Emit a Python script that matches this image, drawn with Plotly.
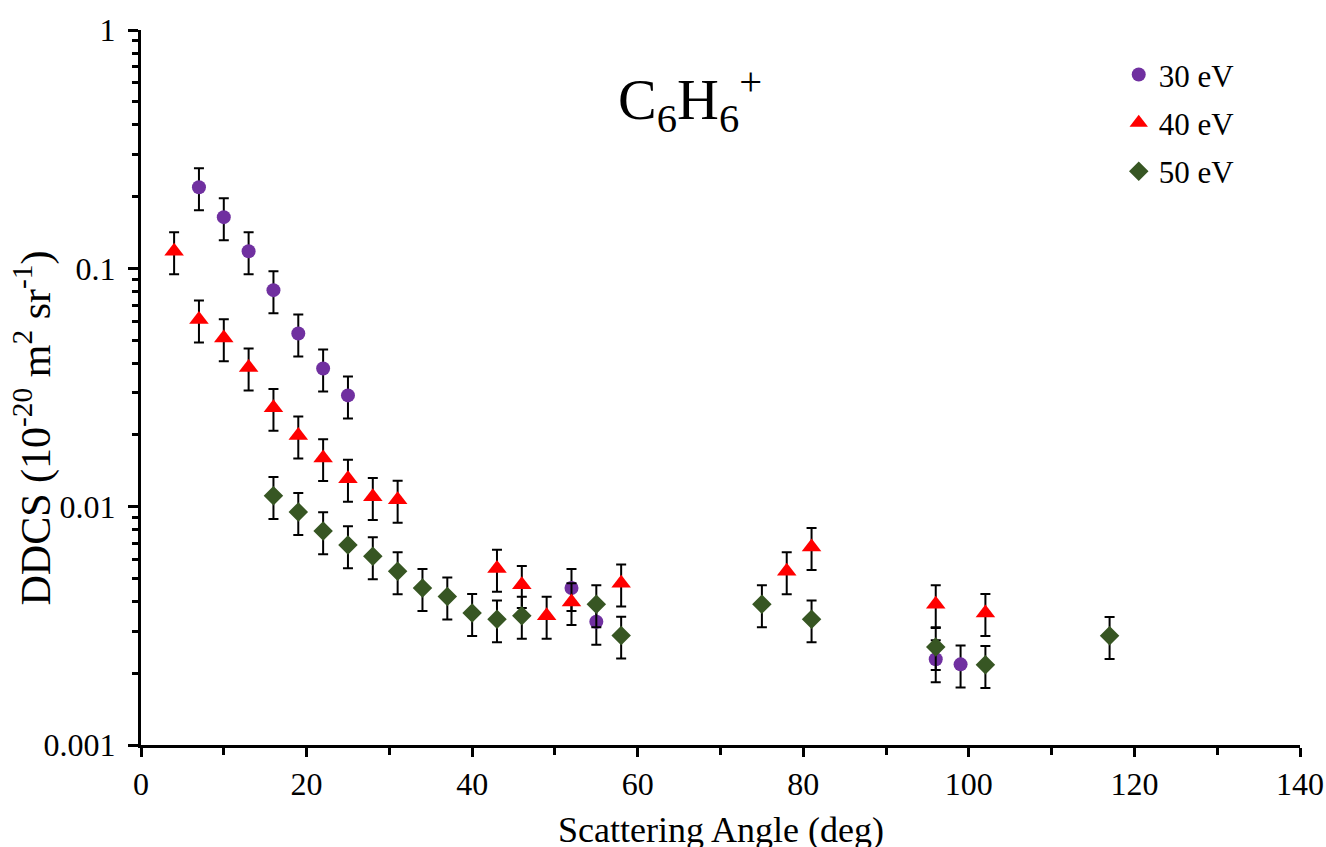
import plotly.graph_objects as go

# ---- data ----
angle_30 = [7, 10, 13, 16, 19, 22, 25, 52, 55, 96, 99]
ddcs_30 = [0.219, 0.164, 0.118, 0.081, 0.0533, 0.038, 0.0293, 0.00456, 0.00329, 0.00229, 0.00218]

angle_40 = [4, 7, 10, 13, 16, 19, 22, 25, 28, 31, 43, 46, 49, 52, 58, 78, 81, 96, 102]
ddcs_40 = [0.118, 0.061, 0.051, 0.0384, 0.026, 0.0199, 0.016, 0.0131, 0.011, 0.0107,
           0.0055, 0.0047, 0.00349, 0.00398, 0.00477, 0.00536, 0.00678, 0.0039, 0.00358]

angle_50 = [16, 19, 22, 25, 28, 31, 34, 37, 40, 43, 46, 55, 58, 75, 81, 96, 102, 117]
ddcs_50 = [0.0111, 0.0095, 0.0079, 0.0069, 0.0062, 0.00536, 0.00456, 0.0042, 0.00358,
           0.00337, 0.00349, 0.0039, 0.00288, 0.0039, 0.00337, 0.00258, 0.00217, 0.00287]

error_percent = 20

series_names = ["30 eV", "40 eV", "50 eV"]
x_ticks = [0, 20, 40, 60, 80, 100, 120, 140]
y_ticks = [0.001, 0.01, 0.1, 1]
y_tick_labels = ["0.001", "0.01", "0.1", "1"]

FONT = "Liberation Serif"

fig = go.Figure()
styles = [
    (angle_30, ddcs_30, "circle", "#7030A0", 14),
    (angle_40, ddcs_40, "triangle-up", "#FF0000", 17),
    (angle_50, ddcs_50, "diamond", "#375623", 15),
]
for name, (xs, ys, sym, col, sz) in zip(series_names, styles):
    fig.add_trace(go.Scatter(
        x=xs, y=ys, mode="markers", name=name, legendgroup=name,
        marker=dict(symbol=sym, color=col, size=sz, line=dict(width=0)),
        error_y=dict(type="percent", value=error_percent, color="black",
                     thickness=2, width=5),
    ))

fig.update_layout(
    width=1326, height=847,
    margin=dict(l=141, r=26, t=30, b=102),
    paper_bgcolor="white", plot_bgcolor="white",
    font=dict(family=FONT, size=32, color="black"),
    showlegend=True,
    legend=dict(x=0.948, y=0.975, xanchor="right", yanchor="top",
                font=dict(family=FONT, size=31, color="black"),
                bgcolor="rgba(0,0,0,0)", itemwidth=30,
                traceorder="grouped", tracegroupgap=5),
    xaxis=dict(range=[0, 140], tickvals=x_ticks, ticktext=[str(v) for v in x_ticks],
               automargin=False,
               showgrid=False, zeroline=False, showline=True, linecolor="black",
               linewidth=3, ticks="outside", ticklen=9, tickwidth=3, tickcolor="black",
               minor=dict(dtick=10, ticks="outside", ticklen=7, tickwidth=3,
                          tickcolor="black", showgrid=False),
               tickfont=dict(family=FONT, size=32)),
    yaxis=dict(type="log", range=[-3, 0], tickvals=y_ticks, ticktext=y_tick_labels,
               automargin=False,
               showgrid=False, zeroline=False, showline=True, linecolor="black",
               linewidth=3, ticks="outside", ticklen=10, tickwidth=3, tickcolor="black",
               ticklabelstandoff=6,
               minor=dict(dtick="D1", ticks="outside", ticklen=6, tickwidth=3,
                          tickcolor="black", showgrid=False),
               tickfont=dict(family=FONT, size=32)),
)

fig.add_annotation(text="C<sub>6</sub>H<sub>6</sub><sup>+</sup>", xref="paper", yref="paper",
                   x=0.474, y=0.902, xanchor="center", yanchor="middle", showarrow=False,
                   font=dict(family=FONT, size=58, color="black"))
fig.add_annotation(text="DDCS (10<sup>-20</sup> m<sup>2</sup> sr<sup>-1</sup>)",
                   xref="paper", yref="paper", x=-0.093, y=0.443, textangle=-90,
                   xanchor="center", yanchor="middle",
                   showarrow=False, font=dict(family=FONT, size=42, color="black"))
fig.add_annotation(text="Scattering Angle (deg)", xref="paper", yref="paper",
                   x=0.5, y=-0.119, xanchor="center", yanchor="middle", showarrow=False,
                   font=dict(family=FONT, size=36, color="black"))

fig.write_html("out.html")
